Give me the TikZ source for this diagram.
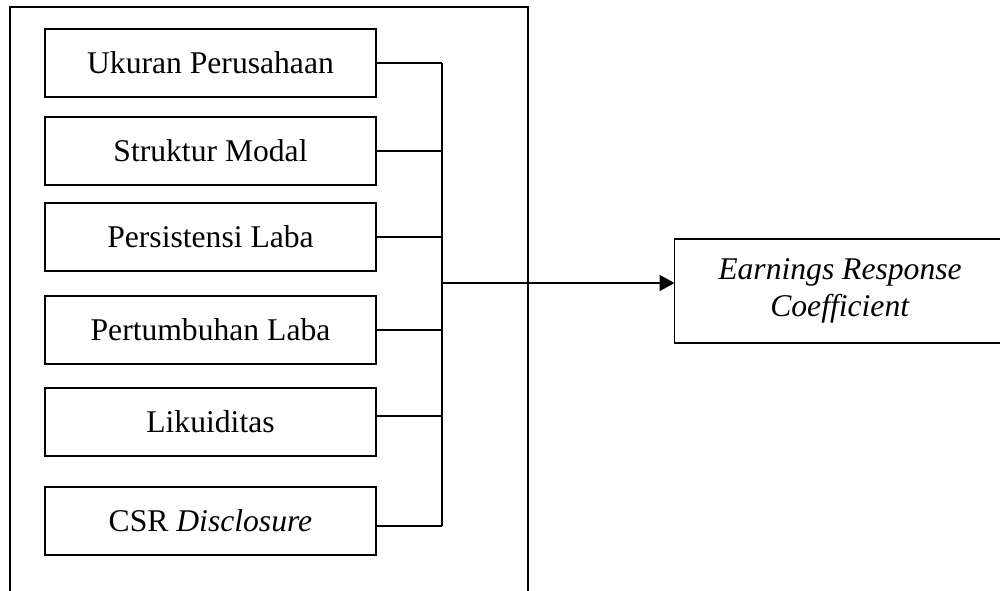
\documentclass[tikz,border=0pt]{standalone}
\usepackage{fontspec}
\setmainfont{Liberation Serif}
\usetikzlibrary{arrows.meta,positioning}
\tikzset{
    %Define standard arrow tip
    >={Triangle[length=0.3cm,width=0.32cm]},
    %Define style for boxes
    variabel/.style={
	rectangle,
	draw=black, line width=1pt,
	minimum width=6.62cm,
	minimum height=1.36cm,
	inner sep=0pt,
	outer sep=0pt,
	font=\fontsize{18}{21}\selectfont,
	text centered
   },
   terikat/.style={
	variabel,
	minimum height=2.08cm,
	align=center
   },
    % Define line style
    garis/.style={
           line width=1pt},
}
\begin{document}
\begin{tikzpicture}[x=0.02cm,y=-0.02cm,node distance=.4cm]
\useasboundingbox (0,0) rectangle (1000,591);
\clip (0,0) rectangle (1000,591);
%frame
\draw[garis] (10,7) rectangle (528,640);
%nodes
\node[variabel] (ukuran) at (210.5,63) {Ukuran Perusahaan};
\node[variabel, below=.4cm of ukuran] (struktur) {Struktur Modal};
\node[variabel, below=.36cm of struktur] (persistensi) {Persistensi Laba};
\node[variabel, below=.5cm of persistensi] (pertumbuhan) {Pertumbuhan Laba};
\node[variabel, below=.48cm of pertumbuhan] (likuiditas) {Likuiditas};
\node[variabel, below=.62cm of likuiditas] (csr) {CSR \textit{Disclosure}};
\node[terikat] (erc) at (840,291) {\textit{Earnings Response}\\\textit{Coefficient}};
\coordinate (bus) at (442,283);
%lines
\draw[garis] (ukuran.east) -- (ukuran.east -| bus);
\draw[garis] (struktur.east) -- (struktur.east -| bus);
\draw[garis] (persistensi.east) -- (persistensi.east -| bus);
\draw[garis] (pertumbuhan.east) -- (pertumbuhan.east -| bus);
\draw[garis] ([yshift=.12cm]likuiditas.east) -- ([yshift=.12cm]likuiditas.east -| bus);
\draw[garis] ([yshift=-.1cm]csr.east) -- ([yshift=-.1cm]csr.east -| bus);
\draw[garis] (ukuran.east -| bus) -- ([yshift=-.1cm]csr.east -| bus);
\draw[garis,->] (bus) -- (bus -| erc.west);
\end{tikzpicture}
\end{document}
